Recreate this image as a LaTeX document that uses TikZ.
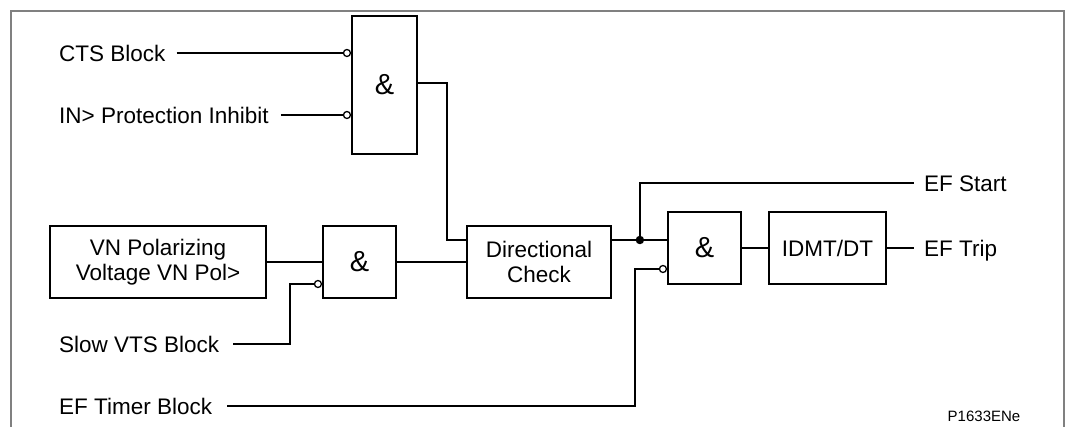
\documentclass[tikz,border=0pt]{standalone}
\usepackage{fontspec}
\setmainfont{Liberation Sans}
\usetikzlibrary{calc}
\begin{document}
\begin{tikzpicture}[x=1pt,y=-1pt,
  wire/.style={line width=1.8pt},
  box/.style={draw, line width=1.8pt, inner sep=0pt, align=center, font=\fontsize{22.5}{25.5}\selectfont},
  gate/.style={box, font=\fontsize{29}{32}\selectfont},
  lbl/.style={inner sep=0pt, text height=16.1pt, text depth=0pt, font=\fontsize{22.5}{26}\selectfont},
  neg/.style={draw, fill=white, line width=1.3pt, circle, inner sep=0pt, minimum size=7pt},
  jdot/.style={fill, circle, inner sep=0pt, minimum size=8.5pt},
  frame/.style={draw=black!50, line width=2.2pt}]
\useasboundingbox (0,0) rectangle (1068,427);
\draw[frame] (11,440) -- (11,11) -- (1064,11) -- (1064,440);

% blocks
\node[gate, minimum width=65pt, minimum height=138pt] (g1) at (384.5,85) {\&};
\node[box, minimum width=216pt, minimum height=72pt] (vn) at (158,262) {VN Polarizing\\Voltage VN Pol>};
\node[gate, minimum width=73pt, minimum height=72pt] (g2) at (359.5,262) {\&};
\node[box, minimum width=144pt, minimum height=72pt] (dir) at (539,262) {Directional\\Check};
\node[gate, minimum width=73pt, minimum height=72pt] (g3) at (704.5,248) {\&};
\node[box, minimum width=117pt, minimum height=72pt] (idmt) at (827.5,248) {IDMT/DT};

% labels
\node[lbl, anchor=west] (cts) at (59,53) {CTS Block};
\node[lbl, anchor=west] (inh) at (59,115) {IN> Protection Inhibit};
\node[lbl, anchor=west] (slow) at (59,344) {Slow VTS Block};
\node[lbl, anchor=west] (timer) at (59,406) {EF Timer Block};
\node[lbl, anchor=west] (start) at (924,183) {EF Start};
\node[lbl, anchor=west] (trip) at (924,248) {EF Trip};
\node[inner sep=0pt, font=\fontsize{15}{18}\selectfont] (code) at (984,416.5) {P1633ENe};

% negation bubbles
\node[neg, anchor=east] (n1) at (g1.west |- cts.east) {};
\node[neg, anchor=east] (n2) at (g1.west |- inh.east) {};
\node[neg, anchor=east] (n3) at ([yshift=-22pt]g2.west) {};
\node[neg, anchor=east] (n4) at ([yshift=-21pt]g3.west) {};

% junction
\node[jdot] (j) at ([xshift=28pt,yshift=22pt]dir.east) {};

% connectors
\draw[wire] ([xshift=11pt]cts.east) -- (n1.west);
\draw[wire] ([xshift=12pt]inh.east) -- (n2.west);
\draw[wire] ([yshift=2pt]g1.east) -- ++(29,0) |- ([yshift=22pt]dir.west);
\draw[wire] (vn.east) -- (g2.west);
\draw[wire] ([xshift=14pt]slow.east) -| ([xshift=-23.5pt]n3.west) -- (n3.west);
\draw[wire] (g2.east) -- (dir.west);
\draw[wire] ([yshift=22pt]dir.east) -- (j.center) -- (j.center -| g3.west);
\draw[wire] (j.center) |- ([xshift=-10pt]start.west);
\draw[wire] (g3.east) -- (idmt.west);
\draw[wire] (idmt.east) -- ([xshift=-10pt]trip.west);
\draw[wire] ([xshift=15pt]timer.east) -| ([xshift=-23.5pt]n4.west) -- (n4.west);
\end{tikzpicture}
\end{document}
